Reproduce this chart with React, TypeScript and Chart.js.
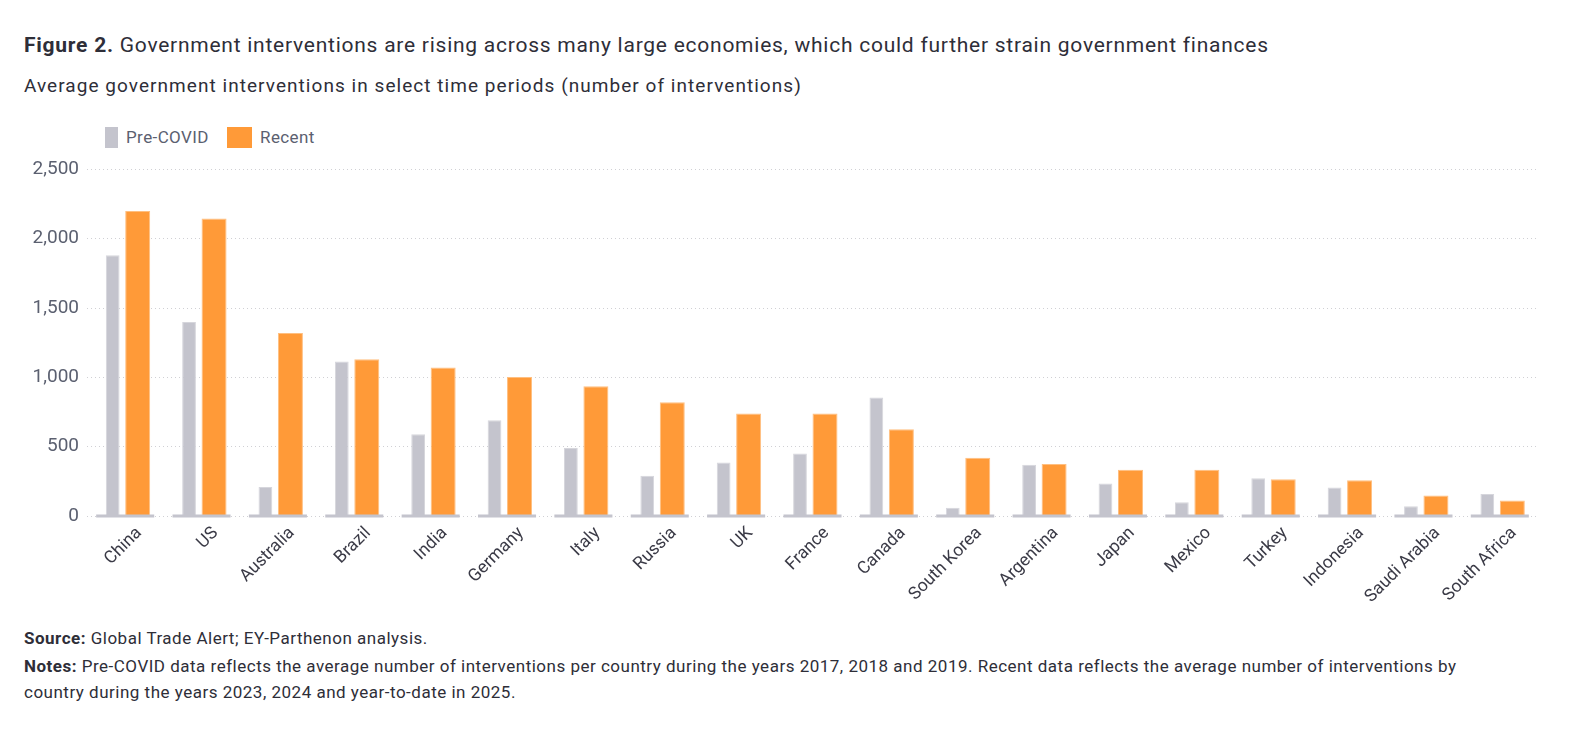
import React, { useEffect, useRef } from "react";
import { Chart, registerables } from "chart.js";

Chart.register(...registerables);

const categories = [
  "China", "US", "Australia", "Brazil", "India", "Germany", "Italy", "Russia", "UK", "France",
  "Canada", "South Korea", "Argentina", "Japan", "Mexico", "Turkey", "Indonesia", "Saudi Arabia", "South Africa",
];
const preCovid = [1880, 1400, 210, 1115, 590, 690, 490, 290, 385, 450, 855, 60, 370, 235, 100, 272, 205, 70, 158];
const recent = [2200, 2145, 1320, 1130, 1072, 1002, 935, 820, 740, 740, 625, 420, 375, 333, 333, 265, 258, 147, 112];
const yTickValues = [0, 500, 1000, 1500, 2000, 2500];

const seriesNames = ["Pre-COVID", "Recent"];
const GRAY = "#c4c4cd";
const ORANGE = "#ff9a38";
const FONT = "Roboto, 'Noto Sans', sans-serif";
const DARK = "#2e2e38";
const AXIS_TEXT = "#5b6070";

const baselinePlugin = {
  id: "baselineStrip",
  afterDatasetsDraw(chart: any) {
    const { ctx, scales } = chart;
    const x = scales.x;
    const y = scales.y;
    const y0 = y.getPixelForValue(0);
    const w = (x.width / categories.length) * 0.76;
    ctx.save();
    ctx.fillStyle = GRAY;
    categories.forEach((_, i) => {
      const cx = x.getPixelForValue(i);
      ctx.fillRect(cx - w / 2, y0 - 1.5, w, 3);
    });
    ctx.restore();
  },
};

function BarChart() {
  const ref = useRef<HTMLCanvasElement | null>(null);
  useEffect(() => {
    if (!ref.current) return;
    const chart = new Chart(ref.current, {
      type: "bar",
      data: {
        labels: categories,
        datasets: [
          {
            label: seriesNames[0],
            data: preCovid,
            backgroundColor: GRAY,
            borderColor: "#d6d6dc",
            borderWidth: 1,
            barPercentage: 0.55,
            categoryPercentage: 0.655,
          },
          {
            label: seriesNames[1],
            data: recent,
            backgroundColor: ORANGE,
            borderColor: "#ffbf80",
            borderWidth: 1,
            barPercentage: 1.0,
            categoryPercentage: 0.655,
          },
        ],
      },
      options: {
        animation: false,
        responsive: true,
        maintainAspectRatio: false,
        layout: { padding: { top: 19, right: 26, left: 0, bottom: 0 } },
        plugins: {
          legend: { display: false },
          tooltip: { enabled: false },
          title: { display: false },
        },
        scales: {
          x: {
            grid: { display: false },
            border: { display: false },
            ticks: {
              autoSkip: false,
              maxRotation: 45,
              minRotation: 45,
              padding: -1,
              labelOffset: 14,
              color: "#3a3a46",
              font: { family: FONT, size: 17.5 },
            },
            afterFit(scale: any) {
              scale.height = 104;
            },
          },
          y: {
            min: 0,
            max: 2500,
            afterBuildTicks(scale: any) {
              scale.ticks = yTickValues.map((v) => ({ value: v }));
            },
            grid: { color: "#d0d0d4", lineWidth: 1, drawTicks: false },
            border: { display: false, dash: [1, 3] },
            ticks: {
              padding: 8,
              color: AXIS_TEXT,
              font: { family: FONT, size: 19 },
              callback: (v: any) => Number(v).toLocaleString("en-US"),
            },
            afterFit(scale: any) {
              scale.width = 79;
            },
          },
        },
      },
      plugins: [baselinePlugin],
    });
    return () => chart.destroy();
  }, []);
  return (
    <div style={{ position: "absolute", left: 0, top: 142, width: 1556, height: 470 }}>
      <canvas ref={ref} />
    </div>
  );
}

const note = { fontSize: 17, letterSpacing: "0.5px", whiteSpace: "nowrap" as const };

export default function App() {
  return (
    <div style={{ position: "relative", width: 1556, height: 714, fontFamily: FONT, color: DARK }}>
      <div
        style={{
          position: "absolute",
          left: 16,
          top: 24,
          fontSize: 21,
          letterSpacing: "0.75px",
          lineHeight: "26px",
          whiteSpace: "nowrap",
        }}
      >
        <span style={{ fontWeight: 700 }}>Figure 2.</span> Government interventions are rising across many large
        economies, which could further strain government finances
      </div>
      <div
        style={{
          position: "absolute",
          left: 16,
          top: 67,
          fontSize: 19,
          letterSpacing: "1.05px",
          lineHeight: "22px",
          whiteSpace: "nowrap",
        }}
      >
        Average government interventions in select time periods (number of interventions)
      </div>
      <div style={{ position: "absolute", left: 97, top: 119, width: 13, height: 21, background: GRAY }} />
      <div
        style={{ position: "absolute", left: 118, top: 118, fontSize: 17, letterSpacing: "0.4px", lineHeight: "22px", color: AXIS_TEXT }}
      >
        {seriesNames[0]}
      </div>
      <div style={{ position: "absolute", left: 219, top: 119, width: 25, height: 21, background: ORANGE }} />
      <div
        style={{ position: "absolute", left: 252, top: 118, fontSize: 17, letterSpacing: "0.4px", lineHeight: "22px", color: AXIS_TEXT }}
      >
        {seriesNames[1]}
      </div>
      <BarChart />
      <div style={{ position: "absolute", left: 16, top: 620, lineHeight: "20px", ...note }}>
        <span style={{ fontWeight: 700 }}>Source:</span> Global Trade Alert; EY-Parthenon analysis.
      </div>
      <div style={{ position: "absolute", left: 16, top: 645, lineHeight: "26px", ...note }}>
        <span style={{ fontWeight: 700 }}>Notes:</span> Pre-COVID data reflects the average number of interventions per
        country during the years 2017, 2018 and 2019. Recent data reflects the average number of interventions by
        <br />
        country during the years 2023, 2024 and year-to-date in 2025.
      </div>
    </div>
  );
}
